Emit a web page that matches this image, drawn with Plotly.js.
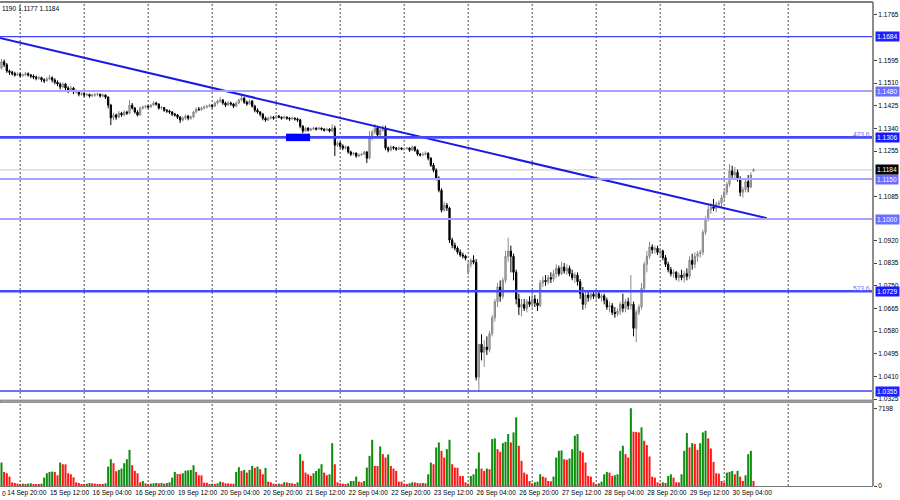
<!DOCTYPE html>
<html><head><meta charset="utf-8">
<script src="https://cdn.plot.ly/plotly-3.0.1.min.js"></script>
<style>html,body{margin:0;padding:0;background:#fff}#chart{width:900px;height:500px}</style>
</head><body><div id="chart"></div>
<script>
// GBPUSD H1, 14 Sep 17:00 .. 30 Sep 11:00 (bar index, weekend bars absent)
const FIRST_BAR = -3;

const barOpen = [
1.1565,1.1590,1.1578,
1.1555,1.1550,1.1545,1.1540,1.1543,1.1538,1.1540,1.1545,1.1540,1.1536,1.1532,1.1528,1.1530,1.1522,1.1518,1.1525,
1.1530,1.1521,1.1513,1.1506,1.1495,1.1506,1.1491,1.1483,1.1491,1.1476,1.1478,1.1468,1.1470,1.1465,1.1467,1.1461,
1.1465,1.1466,1.1468,1.1461,1.1465,1.1457,1.1427,1.1379,1.1390,1.1382,1.1397,1.1390,1.1401,1.1397,1.1427,1.1416,
1.1401,1.1390,1.1416,1.1420,1.1423,1.1420,1.1427,1.1435,1.1431,1.1416,1.1418,1.1408,1.1405,1.1401,1.1393,1.1390,
1.1382,1.1371,1.1378,1.1386,1.1378,1.1382,1.1401,1.1412,1.1410,1.1416,1.1420,1.1423,1.1427,1.1423,1.1435,1.1442,
1.1446,1.1435,1.1427,1.1435,1.1431,1.1423,1.1435,1.1446,1.1453,1.1438,1.1431,1.1442,1.1423,1.1408,1.1401,1.1393,
1.1378,1.1371,1.1378,1.1382,1.1378,1.1386,1.1382,1.1378,1.1382,1.1378,1.1375,1.1378,1.1375,1.1371,1.1348,1.1330,
1.1341,1.1333,1.1337,1.1341,1.1337,1.1341,1.1337,1.1333,1.1337,1.1330,1.1341,1.1277,1.1285,1.1273,1.1266,1.1270,
1.1251,1.1243,1.1247,1.1236,1.1240,1.1243,1.1251,1.1228,1.1303,1.1326,1.1341,1.1315,1.1333,1.1341,1.1266,1.1258,
1.1270,1.1266,1.1262,1.1266,1.1262,1.1264,1.1266,1.1258,1.1270,1.1258,1.1243,1.1240,1.1242,1.1247,1.1228,1.1202,
1.1183,1.1154,1.1108,1.1033,1.1052,1.1041,1.0921,1.0902,1.0891,1.0876,1.0865,1.0861,1.0800,1.0830,1.0845,1.0838,
1.0407,1.0530,1.0500,1.0520,1.0510,1.0570,1.0630,1.0690,1.0745,1.0710,1.0770,1.0860,1.0880,1.0860,1.0800,1.0700,
1.0670,1.0680,1.0665,1.0690,1.0680,1.0700,1.0685,1.0675,1.0760,1.0770,1.0765,1.0780,1.0775,1.0795,1.0815,1.0795,
1.0820,1.0805,1.0815,1.0795,1.0780,1.0790,1.0765,1.0720,1.0680,1.0715,1.0705,1.0718,1.0710,1.0720,1.0705,1.0712,
1.0695,1.0670,1.0675,1.0650,1.0645,1.0655,1.0680,1.0665,1.0690,1.0675,1.0680,1.0590,1.0650,1.0670,1.0740,1.0830,
1.0860,1.0895,1.0885,1.0890,1.0875,1.0880,1.0855,1.0830,1.0810,1.0795,1.0800,1.0780,1.0790,1.0780,1.0795,1.0785,
1.0845,1.0830,1.0860,1.0870,1.0875,1.0950,1.1000,1.1035,1.1045,1.1040,1.1055,1.1060,1.1080,1.1100,1.1130,1.1180,
1.1165,1.1175,1.1150,1.1100,1.1110,1.1140,1.1120,1.1180];

const barHigh = [
1.1600,1.1598,1.1585,
1.1560,1.1556,1.1552,1.1550,1.1548,1.1546,1.1552,1.1550,1.1544,1.1542,1.1538,1.1536,1.1534,1.1528,1.1532,1.1540,
1.1535,1.1528,1.1520,1.1512,1.1512,1.1510,1.1498,1.1500,1.1495,1.1486,1.1482,1.1476,1.1474,1.1472,1.1470,1.1470,
1.1472,1.1474,1.1470,1.1470,1.1468,1.1460,1.1432,1.1398,1.1395,1.1405,1.1402,1.1408,1.1406,1.1446,1.1435,1.1420,
1.1408,1.1422,1.1425,1.1428,1.1426,1.1432,1.1442,1.1440,1.1434,1.1424,1.1420,1.1412,1.1410,1.1404,1.1398,1.1394,
1.1386,1.1384,1.1392,1.1390,1.1388,1.1406,1.1418,1.1420,1.1422,1.1425,1.1428,1.1432,1.1430,1.1440,1.1448,1.1457,
1.1450,1.1440,1.1442,1.1440,1.1435,1.1440,1.1452,1.1466,1.1458,1.1444,1.1448,1.1446,1.1428,1.1415,1.1405,1.1398,
1.1384,1.1384,1.1388,1.1386,1.1390,1.1390,1.1385,1.1388,1.1385,1.1382,1.1384,1.1381,1.1380,1.1376,1.1352,1.1346,
1.1344,1.1342,1.1346,1.1344,1.1346,1.1343,1.1340,1.1342,1.1340,1.1356,1.1350,1.1292,1.1290,1.1280,1.1276,1.1274,
1.1256,1.1252,1.1250,1.1246,1.1248,1.1256,1.1255,1.1330,1.1335,1.1356,1.1345,1.1340,1.1352,1.1350,1.1272,1.1276,
1.1274,1.1270,1.1272,1.1269,1.1268,1.1271,1.1269,1.1276,1.1274,1.1262,1.1248,1.1250,1.1254,1.1250,1.1232,1.1210,
1.1190,1.1160,1.1115,1.1065,1.1060,1.1046,1.0930,1.0912,1.0898,1.0886,1.0874,1.0866,1.0845,1.0852,1.0864,1.0850,
1.0530,1.0568,1.0545,1.0560,1.0580,1.0640,1.0700,1.0760,1.0770,1.0780,1.0880,1.0930,1.0900,1.0870,1.0810,1.0720,
1.0700,1.0700,1.0700,1.0710,1.0720,1.0715,1.0700,1.0770,1.0785,1.0790,1.0790,1.0800,1.0810,1.0830,1.0825,1.0840,
1.0835,1.0830,1.0825,1.0810,1.0800,1.0800,1.0775,1.0745,1.0730,1.0730,1.0725,1.0730,1.0725,1.0730,1.0720,1.0720,
1.0705,1.0690,1.0685,1.0670,1.0665,1.0690,1.0720,1.0700,1.0705,1.0790,1.0690,1.0660,1.0680,1.0760,1.0840,1.0880,
1.0914,1.0905,1.0900,1.0900,1.0890,1.0885,1.0865,1.0840,1.0820,1.0810,1.0805,1.0800,1.0810,1.0805,1.0815,1.0860,
1.0870,1.0875,1.0880,1.0885,1.0960,1.1010,1.1050,1.1060,1.1075,1.1065,1.1070,1.1090,1.1110,1.1140,1.1205,1.1200,
1.1195,1.1185,1.1160,1.1120,1.1150,1.1165,1.1175,1.1190];

const barLow = [
1.1560,1.1570,1.1548,
1.1540,1.1538,1.1534,1.1536,1.1532,1.1533,1.1536,1.1534,1.1528,1.1524,1.1520,1.1522,1.1514,1.1510,1.1515,1.1520,
1.1512,1.1505,1.1498,1.1486,1.1490,1.1480,1.1472,1.1478,1.1468,1.1470,1.1460,1.1462,1.1458,1.1460,1.1455,1.1458,
1.1458,1.1460,1.1455,1.1457,1.1450,1.1415,1.1352,1.1370,1.1372,1.1378,1.1383,1.1386,1.1390,1.1392,1.1410,1.1395,
1.1385,1.1388,1.1410,1.1414,1.1414,1.1417,1.1424,1.1425,1.1410,1.1410,1.1402,1.1398,1.1394,1.1386,1.1384,1.1375,
1.1360,1.1366,1.1372,1.1370,1.1372,1.1378,1.1396,1.1405,1.1406,1.1410,1.1414,1.1418,1.1415,1.1420,1.1430,1.1436,
1.1428,1.1420,1.1424,1.1425,1.1416,1.1420,1.1430,1.1442,1.1432,1.1425,1.1428,1.1418,1.1400,1.1395,1.1385,1.1370,
1.1364,1.1368,1.1374,1.1372,1.1375,1.1378,1.1372,1.1375,1.1372,1.1368,1.1372,1.1369,1.1364,1.1340,1.1322,1.1326,
1.1328,1.1330,1.1334,1.1332,1.1334,1.1332,1.1328,1.1330,1.1325,1.1326,1.1236,1.1270,1.1265,1.1258,1.1260,1.1245,
1.1236,1.1238,1.1230,1.1232,1.1236,1.1240,1.1210,1.1224,1.1295,1.1318,1.1305,1.1310,1.1328,1.1258,1.1250,1.1254,
1.1260,1.1256,1.1259,1.1258,1.1257,1.1260,1.1252,1.1255,1.1252,1.1237,1.1234,1.1235,1.1238,1.1220,1.1195,1.1175,
1.1145,1.1100,1.1025,1.1028,1.1030,1.0910,1.0890,1.0882,1.0868,1.0858,1.0852,1.0845,1.0790,1.0818,1.0830,1.0395,
1.0351,1.0470,1.0445,1.0490,1.0500,1.0560,1.0615,1.0670,1.0690,1.0700,1.0760,1.0840,1.0800,1.0770,1.0680,1.0640,
1.0635,1.0655,1.0650,1.0670,1.0665,1.0670,1.0655,1.0670,1.0745,1.0750,1.0755,1.0760,1.0765,1.0780,1.0785,1.0790,
1.0795,1.0790,1.0785,1.0770,1.0760,1.0750,1.0700,1.0660,1.0665,1.0690,1.0695,1.0700,1.0695,1.0700,1.0690,1.0680,
1.0660,1.0650,1.0640,1.0630,1.0635,1.0640,1.0650,1.0650,1.0660,1.0660,1.0560,1.0538,1.0640,1.0660,1.0730,1.0800,
1.0850,1.0870,1.0870,1.0865,1.0860,1.0845,1.0820,1.0800,1.0785,1.0780,1.0770,1.0765,1.0770,1.0762,1.0770,1.0775,
1.0810,1.0815,1.0840,1.0855,1.0865,1.0940,1.0990,1.1020,1.1030,1.1025,1.1040,1.1045,1.1070,1.1090,1.1120,1.1150,
1.1150,1.1140,1.1085,1.1080,1.1100,1.1100,1.1115,1.1177];

const barClose = [
1.1590,1.1578,1.1555,
1.1550,1.1545,1.1540,1.1543,1.1538,1.1540,1.1545,1.1540,1.1536,1.1532,1.1528,1.1530,1.1522,1.1518,1.1525,1.1530,
1.1521,1.1513,1.1506,1.1495,1.1506,1.1491,1.1483,1.1491,1.1476,1.1478,1.1468,1.1470,1.1465,1.1467,1.1461,1.1465,
1.1466,1.1468,1.1461,1.1465,1.1457,1.1427,1.1379,1.1390,1.1382,1.1397,1.1390,1.1401,1.1397,1.1427,1.1416,1.1401,
1.1390,1.1416,1.1420,1.1423,1.1420,1.1427,1.1435,1.1431,1.1416,1.1418,1.1408,1.1405,1.1401,1.1393,1.1390,1.1382,
1.1371,1.1378,1.1386,1.1378,1.1382,1.1401,1.1412,1.1410,1.1416,1.1420,1.1423,1.1427,1.1423,1.1435,1.1442,1.1446,
1.1435,1.1427,1.1435,1.1431,1.1423,1.1435,1.1446,1.1453,1.1438,1.1431,1.1442,1.1423,1.1408,1.1401,1.1393,1.1378,
1.1371,1.1378,1.1382,1.1378,1.1386,1.1382,1.1378,1.1382,1.1378,1.1375,1.1378,1.1375,1.1371,1.1348,1.1330,1.1341,
1.1333,1.1337,1.1341,1.1337,1.1341,1.1337,1.1333,1.1337,1.1330,1.1341,1.1277,1.1285,1.1273,1.1266,1.1270,1.1251,
1.1243,1.1247,1.1236,1.1240,1.1243,1.1251,1.1228,1.1303,1.1326,1.1341,1.1315,1.1333,1.1341,1.1266,1.1258,1.1270,
1.1266,1.1262,1.1266,1.1262,1.1264,1.1266,1.1258,1.1270,1.1258,1.1243,1.1240,1.1242,1.1247,1.1228,1.1202,1.1183,
1.1154,1.1108,1.1033,1.1052,1.1041,1.0921,1.0902,1.0891,1.0876,1.0865,1.0861,1.0853,1.0830,1.0845,1.0838,1.0407,
1.0530,1.0500,1.0520,1.0510,1.0570,1.0630,1.0690,1.0745,1.0710,1.0770,1.0860,1.0880,1.0860,1.0800,1.0700,1.0670,
1.0680,1.0665,1.0690,1.0680,1.0700,1.0685,1.0675,1.0760,1.0770,1.0765,1.0780,1.0775,1.0795,1.0815,1.0795,1.0820,
1.0805,1.0815,1.0795,1.0780,1.0790,1.0765,1.0720,1.0680,1.0715,1.0705,1.0718,1.0710,1.0720,1.0705,1.0712,1.0695,
1.0670,1.0675,1.0650,1.0645,1.0655,1.0680,1.0665,1.0690,1.0675,1.0680,1.0590,1.0650,1.0670,1.0740,1.0830,1.0860,
1.0895,1.0885,1.0890,1.0875,1.0880,1.0855,1.0830,1.0810,1.0795,1.0800,1.0780,1.0790,1.0780,1.0795,1.0785,1.0845,
1.0830,1.0860,1.0870,1.0875,1.0950,1.1000,1.1035,1.1045,1.1040,1.1055,1.1060,1.1080,1.1100,1.1130,1.1180,1.1165,
1.1175,1.1150,1.1100,1.1110,1.1140,1.1120,1.1165,1.1184];

const barVolume = [
2170,1302,1178,
868,341,279,217,186,217,186,217,248,186,186,186,217,775,1178,1302,
1333,1302,992,2170,2015,2000,1178,1085,806,341,279,186,186,217,279,248,
217,186,186,186,248,1798,2480,2108,1364,1488,1612,2108,2480,3348,1922,1395,
1178,341,465,248,186,217,248,279,248,279,217,279,341,775,1302,1116,
1100,1178,1426,1440,1488,1922,1302,992,980,310,300,186,217,186,248,403,
341,248,240,217,210,1302,1736,1395,1488,1240,1488,1860,1674,1798,1550,1085,
1674,403,341,217,186,217,186,341,330,279,248,186,341,2945,2325,1240,
1085,930,1178,1395,1612,2015,1240,992,1085,3968,2015,341,248,217,186,248,
465,470,868,403,341,465,1705,2790,4278,1860,1850,3658,2945,2635,2914,1860,
1612,1395,403,400,217,186,248,341,330,279,248,279,248,1085,2170,2015,
3565,4030,3255,2635,3410,4278,2015,1705,1690,930,920,341,217,930,1085,1612,
3100,1612,1395,1612,1550,4340,4402,3410,3162,3968,4092,4805,4030,4960,6355,3720,
2325,1240,1085,465,248,341,403,1085,868,775,465,434,868,2635,3255,3286,
2480,2418,2542,3410,4650,4805,3255,3100,2170,930,868,341,186,248,403,1085,
1302,1240,930,992,1085,3255,3720,2945,2635,7198,5022,4991,4960,5425,4185,3782,
2728,868,775,341,248,341,279,930,1085,775,341,330,1085,3255,4898,3565,
3968,3875,3348,3968,4960,5115,4402,3472,2232,1178,1147,465,341,1240,1302,1395,
1085,1395,868,465,992,2945,3255,465];

// time axis labels (bar index of each label)
const timeLabelBars = [0,16,32,48,64,80,96,112,128,144,160,176,192,208,224,240,256,272];
const timeLabels = ['14 Sep 20:00','15 Sep 12:00','16 Sep 04:00','16 Sep 20:00','19 Sep 12:00','20 Sep 04:00',
  '20 Sep 20:00','21 Sep 12:00','22 Sep 04:00','22 Sep 20:00','23 Sep 12:00','26 Sep 04:00','26 Sep 20:00',
  '27 Sep 12:00','28 Sep 04:00','28 Sep 20:00','29 Sep 12:00','30 Sep 04:00'];
// day-start bars (vertical dotted separators)
const dayStartBars = [4,28,52,76,100,124,148,172,196,220,244,268,292];

// price scale labels
const priceTicks = [1.1765,1.1595,1.1510,1.1425,1.1340,1.1255,1.1085,1.0920,1.0835,1.0750,1.0665,1.0580,1.0495,1.0410,1.0325];

// horizontal levels
const levelPrices = [1.1684,1.1480,1.1306,1.1150,1.1000,1.0729,1.0355];
const levelKinds  = ['mid','light','strong','light','light','strong','mid'];
const fiboLevelPrices = [1.1306,1.0729];
const fiboLevelTexts  = ['423.6','523.6'];
const lastPrice = 1.1184;
const headerText = '1190 1.1177 1.1184';

// trend line and marker rectangle
const trendBars = [-3.6, 284];
const trendPrices = [1.1679, 1.1003];
const rectBars = [103.7, 112.7];
const rectPrices = [1.1292, 1.1320];

const volMax = 7198;

// ---------- build ----------
const xBars = barOpen.map((_, k) => k + FIRST_BAR);
const volColors = barVolume.map((v, k) => (k === 0 || v > barVolume[k - 1]) ? '#0b8a0b' : '#ff1414');

const XRANGE = [-3.56, 323.8];
const FONT = {family: 'Liberation Sans, Arial, sans-serif', size: 6.6, color: '#000'};

const traces = [
  {
    type: 'candlestick', x: xBars, open: barOpen, high: barHigh, low: barLow, close: barClose,
    xaxis: 'x', yaxis: 'y',
    increasing: {line: {color: '#8a8a8a', width: 1}, fillcolor: '#b4b4b4'},
    decreasing: {line: {color: '#000000', width: 1}, fillcolor: '#000000'},
    whiskerwidth: 0, hoverinfo: 'skip', showlegend: false
  },
  {
    type: 'scatter', mode: 'lines', x: trendBars, y: trendPrices, xaxis: 'x', yaxis: 'y',
    line: {color: '#1a1ae6', width: 2}, hoverinfo: 'skip', showlegend: false, cliponaxis: true
  },
  {
    type: 'bar', x: xBars, y: barVolume, xaxis: 'x2', yaxis: 'y2',
    marker: {color: volColors, line: {width: 0}}, hoverinfo: 'skip', showlegend: false
  }
];

const levelStyle = {
  strong: {color: '#4646ff', width: 2.6, box: '#1a1aff'},
  light:  {color: '#a4a4ff', width: 2.2, box: '#6c6cff'},
  mid:    {color: '#4040ff', width: 1.4, box: '#2020ff'}
};

const shapes = [];
dayStartBars.forEach(b => shapes.push({
  type: 'line', xref: 'x', yref: 'paper', x0: b, x1: b, y0: 0, y1: 1, layer: 'below',
  line: {color: '#4a4a4a', width: 1, dash: '2px,2px'}
}));
// last price line
shapes.push({type: 'line', xref: 'paper', yref: 'y', x0: 0, x1: 1, y0: lastPrice, y1: lastPrice,
  layer: 'below', line: {color: '#c8c8c8', width: 1}});
levelPrices.forEach((p, k) => {
  const st = levelStyle[levelKinds[k]];
  shapes.push({type: 'line', xref: 'paper', yref: 'y', x0: 0, x1: 1, y0: p, y1: p, layer: 'above',
    line: {color: st.color, width: st.width}});
});
shapes.push({type: 'rect', xref: 'x', yref: 'y', x0: rectBars[0], x1: rectBars[1], y0: rectPrices[0], y1: rectPrices[1],
  fillcolor: '#0000ff', line: {width: 0}, layer: 'above'});
// frame: top border, panel separator, right axis line
shapes.push({type: 'line', xref: 'paper', yref: 'paper', x0: 0, x1: 1, y0: 1, y1: 1, line: {color: '#555', width: 1.5}});
shapes.push({type: 'rect', xref: 'paper', yref: 'paper', x0: 0, x1: 1, y0: 0.1728, y1: 0.1774,
  fillcolor: '#a8a8a8', line: {color: '#6a6a6a', width: 0.8}});
shapes.push({type: 'line', xref: 'paper', yref: 'paper', x0: 1, x1: 1, y0: 0, y1: 1, line: {color: '#8c8c8c', width: 2}});

const annotations = [];
annotations.push({xref: 'paper', yref: 'paper', x: 0, y: 1, xanchor: 'left', yanchor: 'top', yshift: -1,
  text: headerText, showarrow: false, font: FONT});
levelPrices.forEach((p, k) => {
  const st = levelStyle[levelKinds[k]];
  annotations.push({xref: 'paper', yref: 'y', x: 1, y: p, xanchor: 'left', yanchor: 'middle', xshift: 2,
    text: p.toFixed(4), showarrow: false, bgcolor: st.box, borderpad: 1,
    font: {family: FONT.family, size: FONT.size, color: '#fff'}});
});
annotations.push({xref: 'paper', yref: 'y', x: 1, y: lastPrice, xanchor: 'left', yanchor: 'middle', xshift: 2,
  text: lastPrice.toFixed(4), showarrow: false, bgcolor: '#000', borderpad: 1,
  font: {family: FONT.family, size: FONT.size, color: '#fff'}});
fiboLevelPrices.forEach((p, k) => annotations.push({xref: 'paper', yref: 'y', x: 1, y: p,
  xanchor: 'right', yanchor: 'middle', xshift: -1, yshift: 3, text: fiboLevelTexts[k], showarrow: false,
  font: {family: FONT.family, size: FONT.size, color: '#6f6fff'}}));
annotations.push({xref: 'paper', yref: 'paper', x: 0, y: 0, xanchor: 'left', yanchor: 'top', yshift: -2,
  text: '0', showarrow: false, font: FONT});

const layout = {
  width: 900, height: 500,
  margin: {l: 0, r: 27, t: 2, b: 14, pad: 0},
  paper_bgcolor: '#fff', plot_bgcolor: '#fff',
  showlegend: false, hovermode: false, bargap: 0.25,
  xaxis: {domain: [0, 1], range: XRANGE, anchor: 'y', showticklabels: false, showgrid: false,
    zeroline: false, rangeslider: {visible: false}, fixedrange: true},
  yaxis: {domain: [0.1777, 1], range: [1.03214, 1.18137], side: 'right', anchor: 'x',
    tickvals: priceTicks, ticktext: priceTicks.map(v => v.toFixed(4)), ticks: 'outside', ticklen: 3,
    tickcolor: '#444', tickfont: FONT, showgrid: false, zeroline: false, showline: false},
  xaxis2: {domain: [0, 1], range: XRANGE, anchor: 'y2', showgrid: false, zeroline: false,
    tickvals: timeLabelBars.map(b => b + 6.5), ticktext: timeLabels, ticks: '', tickfont: FONT,
    showline: true, linecolor: '#777', linewidth: 1},
  yaxis2: {domain: [0, 0.1715], range: [0, 7680], side: 'right', anchor: 'x2',
    tickvals: [0, volMax], ticktext: ['0', String(volMax)], ticks: 'outside', ticklen: 3, tickcolor: '#444',
    tickfont: FONT, showgrid: false, zeroline: false},
  shapes: shapes,
  annotations: annotations
};

Plotly.newPlot('chart', traces, layout, {staticPlot: true, displayModeBar: false});
</script>
</body></html>
